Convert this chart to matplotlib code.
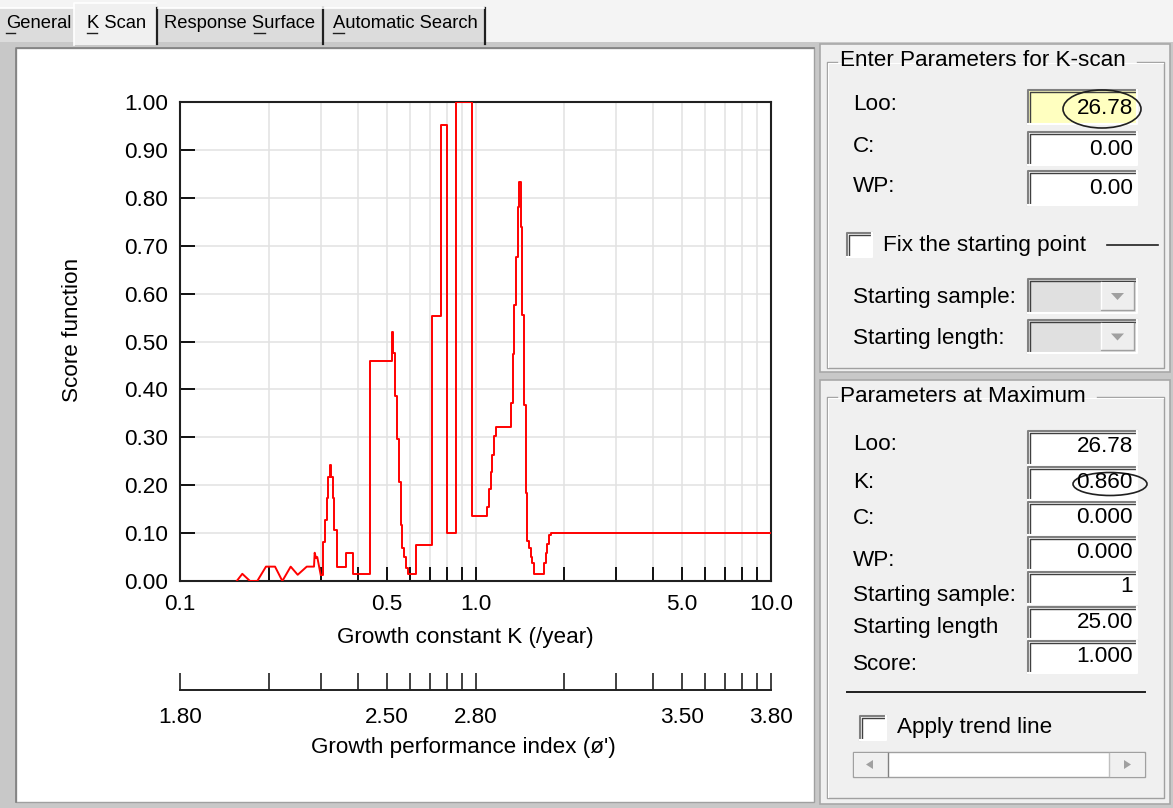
import matplotlib

matplotlib.use("Agg")
import matplotlib.pyplot as plt
from matplotlib.lines import Line2D
from matplotlib.patches import Ellipse, Polygon, Rectangle
from matplotlib.ticker import FixedLocator, FixedFormatter, NullFormatter
from matplotlib.transforms import Affine2D

# K-scan score curve
# low zig-zag part (drawn point to point)
k_low = [0.1556, 0.1625, 0.1725, 0.1826, 0.1954, 0.2097, 0.2220, 0.2369, 0.2502, 0.2685,
         0.2841, 0.2856, 0.2885, 0.2914, 0.2993]
score_low = [0.000, 0.015, 0.000, 0.000, 0.030, 0.030, 0.000, 0.030, 0.013, 0.030,
             0.030, 0.059, 0.048, 0.050, 0.013]
# remaining part (drawn as steps)
k_step = [
    0.2993, 0.3040, 0.3088, 0.3136, 0.3176, 0.3218,
    0.3243, 0.3287, 0.3328, 0.3391, 0.3406, 0.3637, 0.3637, 0.3859, 0.3859, 0.4395,
    0.4395, 0.5229, 0.5229, 0.5260, 0.5311, 0.5340, 0.5411, 0.5522, 0.5583, 0.5653,
    0.5742, 0.5818, 0.5896, 0.6290, 0.6290, 0.7109, 0.7109, 0.7623, 0.7623, 0.8028,
    0.8028, 0.8590, 0.8590, 0.9708, 0.9708, 1.096, 1.096, 1.111, 1.126, 1.140,
    1.155, 1.171, 1.319, 1.319, 1.336, 1.353, 1.371, 1.389, 1.407, 1.426,
    1.440, 1.459, 1.479, 1.497, 1.517, 1.537, 1.557, 1.578, 1.688, 1.705,
    1.728, 1.750, 1.773, 1.796, 10.0,
]
score_step = [
    0.013, 0.082, 0.127, 0.173, 0.217, 0.242,
    0.217, 0.173, 0.106, 0.058, 0.030, 0.030, 0.059, 0.059, 0.014, 0.014,
    0.459, 0.459, 0.520, 0.475, 0.475, 0.386, 0.296, 0.207, 0.117, 0.068,
    0.051, 0.027, 0.014, 0.014, 0.075, 0.075, 0.554, 0.554, 0.953, 0.953,
    0.100, 0.100, 1.000, 1.000, 0.136, 0.136, 0.154, 0.193, 0.228, 0.263,
    0.303, 0.322, 0.322, 0.371, 0.474, 0.576, 0.676, 0.780, 0.832, 0.738,
    0.555, 0.367, 0.184, 0.084, 0.068, 0.051, 0.037, 0.015, 0.015, 0.037,
    0.058, 0.077, 0.096, 0.100, 0.100,
]

k_major = [0.1, 0.5, 1.0, 5.0, 10.0]
k_labels = ["0.1", "0.5", "1.0", "5.0", "10.0"]
k_minor = [0.2, 0.3, 0.4, 0.6, 0.7, 0.8, 0.9, 2, 3, 4, 6, 7, 8, 9]
phi_labels = ["1.80", "2.50", "2.80", "3.50", "3.80"]
score_ticks = [0.0, 0.1, 0.2, 0.3, 0.4, 0.5, 0.6, 0.7, 0.8, 0.9, 1.0]
score_labels = ["0.00", "0.10", "0.20", "0.30", "0.40", "0.50", "0.60", "0.70", "0.80", "0.90", "1.00"]

tab_names = ["General", "K Scan", "Response Surface", "Automatic Search"]
entry_labels = ["Loo:", "C:", "WP:"]
entry_values = ["26.78", "0.00", "0.00"]
max_labels = ["Loo:", "K:", "C:", "WP:", "Starting sample:", "Starting length", "Score:"]
max_values = ["26.78", "0.860", "0.000", "0.000", "1", "25.00", "1.000"]

W, H = 1173, 808
plt.rcParams["font.family"] = ["Liberation Sans", "DejaVu Sans"]
FS = 16.2

fig = plt.figure(figsize=(W / 100, H / 100), dpi=100)
fig.patch.set_facecolor("#c8c8c8")
T = Affine2D().scale(1 / W, -1 / H).translate(0, 1) + fig.transFigure


def rect(x0, y0, x1, y1, fc, ec="none", lw=0, z=-1):
    fig.add_artist(Rectangle((x0, y0), x1 - x0, y1 - y0, transform=T, fc=fc, ec=ec, lw=lw, zorder=z))


def line(xs, ys, color, lw=1.0, z=1):
    fig.add_artist(Line2D(xs, ys, transform=T, color=color, lw=lw, zorder=z))


def text(x, y, s, **kw):
    kw.setdefault("fontsize", FS)
    kw.setdefault("va", "center")
    fig.text(x, y, s, transform=T, **kw)


def sunken(x0, y0, x1, y1, fc="white"):
    rect(x0, y0, x1, y1, fc, z=1)
    line([x0, x0, x1], [y1, y0, y0], "#808080", lw=1.5, z=2)
    line([x0 + 1.5, x0 + 1.5, x1 - 1.5], [y1 - 1.5, y0 + 1.5, y0 + 1.5], "#404040", lw=1.0, z=2)
    line([x0, x1, x1], [y1, y1, y0], "#ffffff", lw=1.5, z=2)


# tab strip
rect(0, 0, W, 42, "#f4f4f4", z=-2)
rect(0, 8, 157, 42, "#dcdcdc", z=-1)
rect(157, 8, 485, 42, "#dcdcdc", z=-1)
rect(74, 3, 157, 45, "#f0f0f0", z=-1)
for sx in [157, 323, 485]:
    line([sx, sx], [8, 44], "#202020", lw=1.6)
line([0, 74], [8, 8], "#ffffff", lw=1.2)
line([74, 74, 156], [45, 3, 3], "#ffffff", lw=1.2)
line([158, 484], [8, 8], "#ffffff", lw=1.2)
tab_x = [6, 87, 164, 333]
for name, tx in zip(tab_names, tab_x):
    text(tx, 24, name, fontsize=13.2)
for ux0, ux1 in [(6, 15), (87, 97), (254, 265), (333, 344)]:
    line([ux0, ux1], [33, 33], "#202020", lw=1.0)

# page background and chart panel
rect(0, 42, W, H, "#c8c8c8", z=-2)
rect(16, 48, 814, 802, "#ffffff", ec="#a0a0a0", lw=1.0, z=-1)
line([16, 16, 814], [802, 48, 48], "#808080", lw=1.2, z=-1)

# right panels
for y0, y1 in [(44, 372), (380, 804)]:
    rect(820, y0, 1170, y1, "#f0f0f0", ec="#a8a8a8", lw=1.2, z=-1)
for y0, y1, title, tw in [(62, 368, "Enter Parameters for K-scan", 300), (397, 798, "Parameters at Maximum", 260)]:
    line([837, 827, 827, 1164, 1164, 837 + tw], [y0, y0, y1, y1, y0, y0], "#a0a0a0", lw=1.0)
    line([828, 828, 1163], [y1 - 1, y0 + 1, y0 + 1], "#ffffff", lw=0.8)
    text(840, y0 - 1, title)

entry_y = [(90, 124), (132, 165), (171, 205)]
for lab, val, (y0, y1) in zip(entry_labels, entry_values, entry_y):
    text(853, (y0 + y1) / 2 - 2, lab)
    sunken(1028, y0, 1137, y1, fc="#ffffc0" if lab == "Loo:" else "white")
    text(1133, (y0 + y1) / 2 + 1, val, ha="right")
fig.add_artist(Ellipse((1102, 109), 78, 38, transform=T, fill=False, ec="#202020", lw=1.2, zorder=3))

sunken(847, 233, 872, 257)
text(883, 245, "Fix the starting point")
line([1107, 1158], [245, 245], "#202020", lw=1.2)

for lab, (y0, y1) in zip(["Starting sample:", "Starting length:"], [(279, 313), (320, 353)]):
    text(853, (y0 + y1) / 2 + 2, lab)
    sunken(1028, y0, 1137, y1, fc="#e0e0e0")
    rect(1101, y0 + 3, 1134, y1 - 3, "#eeeeee", z=2)
    line([1101, 1101], [y0 + 3, y1 - 3], "#ffffff", lw=1.0, z=3)
    line([1101, 1134, 1134], [y1 - 3, y1 - 3, y0 + 3], "#a0a0a0", lw=1.0, z=3)
    cy = (y0 + y1) / 2
    fig.add_artist(Polygon([[1111, cy - 3], [1124, cy - 3], [1117.5, cy + 4]], closed=True,
                           transform=T, fc="#a0a0a0", ec="none", zorder=4))

max_y = [(431, 465), (467, 500), (502, 535), (537, 570), (572, 604), (607, 639), (641, 673)]
label_y = [445, 483, 518, 560, 595, 628, 665]
for lab, val, (y0, y1), ly in zip(max_labels, max_values, max_y, label_y):
    text(853, ly, lab)
    sunken(1028, y0, 1137, y1)
    text(1133, (y0 + y1) / 2 - 1, val, ha="right")
fig.add_artist(Ellipse((1110, 484), 74, 23, transform=T, fill=False, ec="#202020", lw=1.2, zorder=3))

line([847, 1145], [692, 692], "#202020", lw=1.4)
sunken(860, 716, 886, 740)
text(897, 728, "Apply trend line")
rect(853, 752, 1145, 777, "#ffffff", ec="#a0a0a0", lw=1.0, z=1)
rect(854, 753, 888, 776, "#f0f0f0", z=2)
rect(1109, 753, 1144, 776, "#f0f0f0", z=2)
line([888, 888], [753, 776], "#808080", lw=1.0, z=3)
line([1109, 1109], [753, 776], "#c0c0c0", lw=1.0, z=3)
fig.add_artist(Polygon([[866, 764.5], [873, 760], [873, 769]], closed=True, transform=T, fc="#a0a0a0", ec="none", zorder=4))
fig.add_artist(Polygon([[1131, 764.5], [1124, 760], [1124, 769]], closed=True, transform=T, fc="#a0a0a0", ec="none", zorder=4))

# main chart
ax_l, ax_r, ax_t, ax_b = 180, 771, 102, 581
ax = fig.add_axes([ax_l / W, 1 - ax_b / H, (ax_r - ax_l) / W, (ax_b - ax_t) / H])
ax.plot(k_low, score_low, color="#ff0000", lw=1.4, zorder=3)
ax.plot(k_step, score_step, color="#ff0000", lw=1.4, zorder=3, drawstyle="steps-post")
ax.set_xscale("log")
ax.set_xlim(0.1, 10)
ax.set_ylim(0, 1)
ax.xaxis.set_major_locator(FixedLocator(k_major))
ax.xaxis.set_major_formatter(FixedFormatter(k_labels))
ax.xaxis.set_minor_locator(FixedLocator(k_minor))
ax.xaxis.set_minor_formatter(NullFormatter())
ax.yaxis.set_major_locator(FixedLocator(score_ticks))
ax.yaxis.set_major_formatter(FixedFormatter(score_labels))
ax.grid(True, which="both", color="#e2e2e2", lw=1.1, zorder=0)
ax.set_axisbelow(True)
ax.tick_params(axis="x", which="both", direction="in", length=10, width=1.4, color="#101010",
               labelsize=FS, pad=9, top=False)
ax.tick_params(axis="y", which="both", direction="in", length=11, width=1.4, color="#101010",
               labelsize=FS, pad=8.5, right=False)
for sp in ax.spines.values():
    sp.set_linewidth(1.5)
    sp.set_color("#202020")
ax.set_xlabel("Growth constant K (/year)", fontsize=FS)
ax.xaxis.set_label_coords(465, 638, transform=T)
ax.xaxis.label.set_va("center")
ax.set_ylabel("Score function", fontsize=FS)
ax.yaxis.set_label_coords(73, 330, transform=T)
ax.yaxis.label.set_va("center")

# growth performance index axis
ax2 = fig.add_axes([ax_l / W, 1 - 690 / H, (ax_r - ax_l) / W, 20 / H])
ax2.set_xscale("log")
ax2.set_xlim(0.1, 10)
ax2.patch.set_visible(False)
for side in ["top", "left", "right"]:
    ax2.spines[side].set_visible(False)
ax2.spines["bottom"].set_linewidth(1.4)
ax2.spines["bottom"].set_color("#202020")
ax2.set_yticks([])
ax2.xaxis.set_major_locator(FixedLocator(k_major))
ax2.xaxis.set_major_formatter(FixedFormatter(phi_labels))
ax2.xaxis.set_minor_locator(FixedLocator(k_minor))
ax2.xaxis.set_minor_formatter(NullFormatter())
ax2.tick_params(axis="x", which="both", direction="in", length=12, width=1.2, color="#202020",
                labelsize=FS, pad=12)
ax2.set_xlabel("Growth performance index (\u00f8')", fontsize=FS)
ax2.xaxis.set_label_coords(463, 748, transform=T)
ax2.xaxis.label.set_va("center")

fig.savefig("out.png", dpi=100, facecolor=fig.get_facecolor())
